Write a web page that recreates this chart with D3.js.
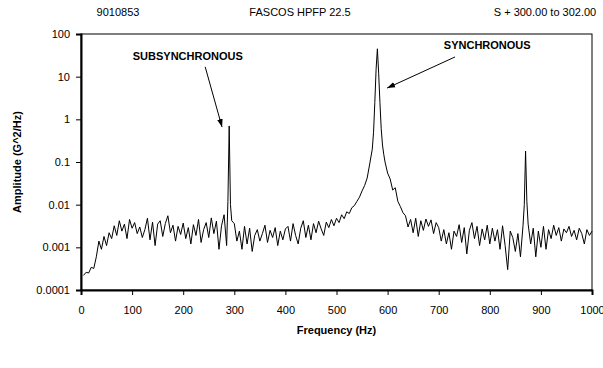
<!DOCTYPE html>
<html>
<head>
<meta charset="utf-8">
<script src="https://cdn.jsdelivr.net/npm/d3@7"></script>
<style>
  body { margin: 0; background: #fff; }
  svg { display: block; font-family: "Liberation Sans", Arial, sans-serif; }
  .tick text { font-size: 11px; fill: #000; }
  .lbl { font-size: 11px; font-weight: bold; fill: #000; }
</style>
</head>
<body>
<svg id="chart" width="603" height="368"></svg>
<script>
const headerText = ['9010853', 'FASCOS HPFP 22.5', 'S + 300.00 to 302.00'];
const xTicks = [0, 100, 200, 300, 400, 500, 600, 700, 800, 900, 1000];
const yTicks = [0.0001, 0.001, 0.01, 0.1, 1, 10, 100];
const yTickLabels = ['0.0001', '0.001', '0.01', '0.1', '1', '10', '100'];

const freqHz = [
  5, 10, 15, 20, 25, 30, 35, 40, 45, 50,
  55, 60, 65, 70, 75, 80, 85, 90, 95, 100,
  105, 110, 115, 120, 125, 130, 135, 140, 145, 150,
  155, 160, 165, 170, 175, 180, 185, 190, 195, 200,
  205, 210, 215, 220, 225, 230, 235, 240, 245, 250,
  255, 260, 265, 270, 275, 280, 285, 287.5, 290, 292.5, 295, 300,
  305, 310, 315, 320, 325, 330, 335, 340, 345, 350,
  355, 360, 365, 370, 375, 380, 385, 390, 395, 400,
  405, 410, 415, 420, 425, 430, 435, 440, 445, 450,
  455, 460, 465, 470, 475, 480, 485, 490, 495, 500,
  505, 510, 515, 520, 525, 530, 535, 540, 545, 550,
  555, 560, 565, 570, 572.5, 575, 577.5, 580, 582.5, 585, 587.5, 590, 592.5, 595, 600,
  605, 610, 615, 620, 625, 630, 635, 640, 645, 650,
  655, 660, 665, 670, 675, 680, 685, 690, 695, 700,
  705, 710, 715, 720, 725, 730, 735, 740, 745, 750,
  755, 760, 765, 770, 775, 780, 785, 790, 795, 800,
  805, 810, 815, 820, 825, 830, 835, 840, 845, 850,
  855, 860, 865, 867.5, 870, 872.5, 875, 880, 885, 890, 895, 900,
  905, 910, 915, 920, 925, 930, 935, 940, 945, 950,
  955, 960, 965, 970, 975, 980, 985, 990, 995, 1000
];

const amplitude = [
  0.00022, 0.00026, 0.00025, 0.00034, 0.00032, 0.0006, 0.0014, 0.0009, 0.0018, 0.0011,
  0.0022, 0.0016, 0.0032, 0.0019, 0.0042, 0.0024, 0.0035, 0.0016, 0.0045, 0.0028,
  0.0038, 0.0021, 0.003, 0.0017, 0.0026, 0.0048, 0.0015, 0.0039, 0.0011, 0.0035,
  0.0042, 0.0018, 0.0036, 0.0055, 0.0022, 0.0033, 0.0014, 0.0031, 0.002, 0.0037,
  0.0016, 0.0029, 0.0012, 0.0034, 0.0019, 0.0045, 0.0013, 0.0026, 0.0038, 0.0017,
  0.0049, 0.0021, 0.0041, 0.0009, 0.0032, 0.0058, 0.0011, 0.012, 0.7, 0.01, 0.0042, 0.0036,
  0.0014, 0.0024, 0.0009, 0.0031, 0.0012, 0.0028, 0.0008, 0.0019, 0.0026, 0.0014,
  0.0021, 0.0033, 0.0013, 0.0025, 0.0017, 0.0029, 0.0011, 0.0024, 0.0015, 0.0027,
  0.0031, 0.0014, 0.0036, 0.0019, 0.0012, 0.0028, 0.0042, 0.0017, 0.0033, 0.0015,
  0.0036, 0.0022, 0.0041, 0.0027, 0.0019, 0.0039, 0.0029, 0.0045, 0.0032, 0.0048,
  0.0038, 0.0058, 0.0047, 0.0068, 0.0062, 0.0085, 0.0095, 0.012, 0.015, 0.021,
  0.028, 0.042, 0.09, 0.2, 0.5, 2.5, 15, 45, 12, 2.5, 0.6, 0.25, 0.15, 0.1, 0.055,
  0.04, 0.022, 0.025, 0.012, 0.009, 0.0065, 0.0055, 0.003, 0.0045, 0.0022,
  0.0048, 0.0018, 0.0042, 0.0025, 0.0046, 0.0031, 0.0044, 0.0021, 0.0038, 0.0029,
  0.0014, 0.0026, 0.0012, 0.0022, 0.0009, 0.0024, 0.0018, 0.0034, 0.0013, 0.0029,
  0.0007, 0.0025, 0.0038, 0.0016, 0.0031, 0.0011, 0.0027, 0.0015, 0.0033, 0.0012,
  0.0028, 0.0014, 0.0026, 0.0009, 0.0032, 0.0011, 0.0003, 0.0024, 0.0017, 0.0008,
  0.0021, 0.0006, 0.0032, 0.01, 0.18, 0.012, 0.0035, 0.0012, 0.0028, 0.0006, 0.0024, 0.001,
  0.0031, 0.0009, 0.0026, 0.0016, 0.0033, 0.0019, 0.0029, 0.0014, 0.0027, 0.0022,
  0.0031, 0.0018, 0.0025, 0.0015, 0.0028, 0.0021, 0.0012, 0.0026, 0.0019, 0.0024
];

// annotation anchors in data units: [label pos, arrow start, arrow tip]
const notes = [
  { text: 'SUBSYNCHRONOUS', label: [209, 30], from: [243, 17], to: [276, 0.66] },
  { text: 'SYNCHRONOUS', label: [795, 55], from: [732, 29], to: [599, 5.4] }
];

const W = 603, H = 368;
const m = { top: 34, right: 11, bottom: 78, left: 81 };
const svg = d3.select('#chart');

const x = d3.scaleLinear().domain([0, 1000]).range([m.left, W - m.right]);
const y = d3.scaleLog().domain([0.0001, 100]).range([H - m.bottom, m.top]);

// frame
svg.append('rect')
  .attr('x', m.left).attr('y', m.top)
  .attr('width', W - m.left - m.right).attr('height', H - m.top - m.bottom)
  .attr('fill', 'none').attr('stroke', '#000').attr('stroke-width', 1);

const xAxis = svg.append('g')
  .attr('transform', `translate(0,${H - m.bottom})`)
  .call(d3.axisBottom(x).tickValues(xTicks).tickSize(5).tickPadding(11).tickFormat(d3.format('d')));
xAxis.select('.domain').attr('stroke-width', 2);

const yAxis = svg.append('g')
  .attr('transform', `translate(${m.left},0)`)
  .call(d3.axisLeft(y).tickValues(yTicks).tickSize(5).tickPadding(6)
    .tickFormat((d, i) => yTickLabels[i]));
yAxis.select('.domain').attr('stroke-width', 2);

// spectrum
const line = d3.line()
  .x((d, i) => x(freqHz[i]))
  .y(d => y(d));

svg.append('path')
  .datum(amplitude)
  .attr('d', line)
  .attr('fill', 'none')
  .attr('stroke', '#000')
  .attr('stroke-width', 1)
  .attr('stroke-linejoin', 'round');

// header
const headerX = [118, 300, 545];
svg.selectAll('.hdr')
  .data(headerText)
  .join('text')
  .attr('class', 'hdr')
  .attr('x', (d, i) => headerX[i])
  .attr('y', 16)
  .attr('text-anchor', 'middle')
  .style('font-size', '11px')
  .text(d => d);

// axis titles
svg.append('text')
  .attr('class', 'lbl')
  .attr('x', (m.left + W - m.right) / 2)
  .attr('y', 334)
  .attr('text-anchor', 'middle')
  .text('Frequency (Hz)');

svg.append('text')
  .attr('class', 'lbl')
  .attr('transform', `translate(21,${(m.top + H - m.bottom) / 2}) rotate(-90)`)
  .attr('text-anchor', 'middle')
  .text('Amplitude (G^2/Hz)');

// annotations
svg.append('defs').append('marker')
  .attr('id', 'arrow')
  .attr('viewBox', '0 0 10 10')
  .attr('refX', 10).attr('refY', 5)
  .attr('markerWidth', 8).attr('markerHeight', 8)
  .attr('orient', 'auto')
  .append('path')
  .attr('d', 'M0,1.5 L10,5 L0,8.5 Z')
  .attr('fill', '#000');

notes.forEach(n => {
  svg.append('text')
    .attr('class', 'lbl')
    .attr('x', x(n.label[0]))
    .attr('y', y(n.label[1]) + 4)
    .attr('text-anchor', 'middle')
    .text(n.text);
  svg.append('line')
    .attr('x1', x(n.from[0])).attr('y1', y(n.from[1]))
    .attr('x2', x(n.to[0])).attr('y2', y(n.to[1]))
    .attr('stroke', '#000').attr('stroke-width', 1)
    .attr('marker-end', 'url(#arrow)');
});
</script>
</body>
</html>
